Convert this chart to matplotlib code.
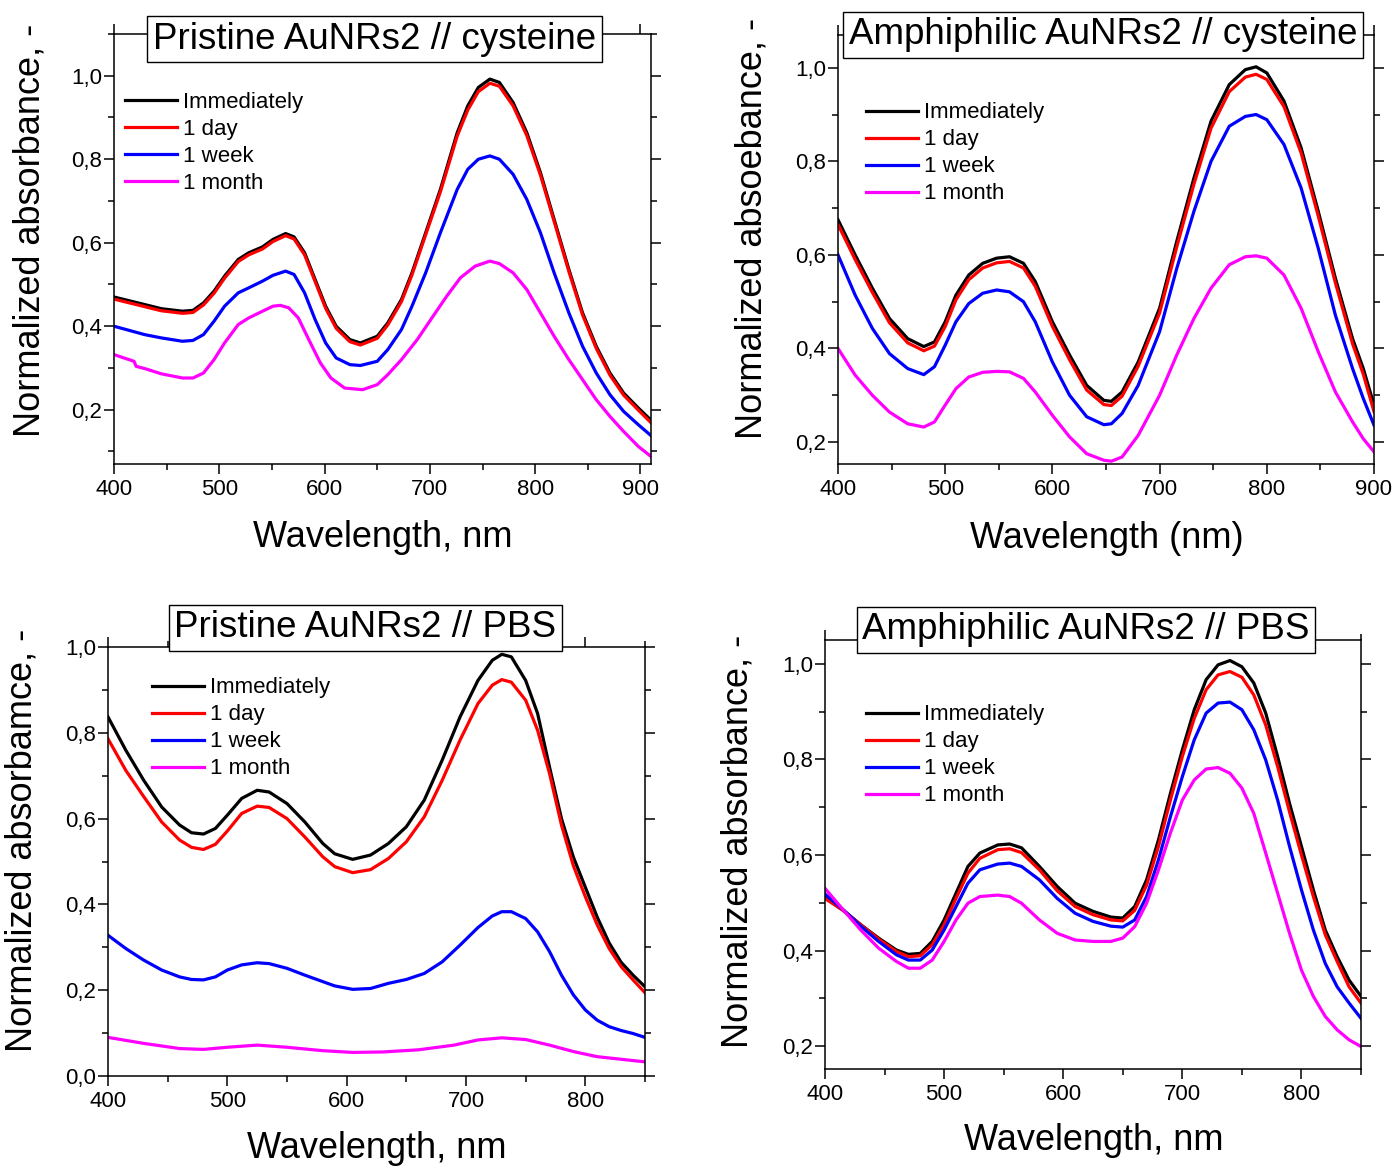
import matplotlib
matplotlib.use('Agg')
import matplotlib.pyplot as plt
from matplotlib.ticker import MultipleLocator, FuncFormatter

plt.rcParams['font.family'] = ['Liberation Sans', 'DejaVu Sans']

labels = ['Immediately', '1 day', '1 week', '1 month']
colors = ['#000000', '#FF0000', '#0000FF', '#FF00FF']

# --- Pristine AuNRs2 // cysteine ---
wl_pc = [400, 429, 445, 465, 475, 485, 495, 505, 518, 528, 541, 551, 563, 571, 581, 591, 601, 611, 624, 634,
         650, 660, 673, 683, 696, 710, 726, 736, 746, 757, 766, 779, 792, 805, 818, 832, 845, 858, 871, 884, 898, 910]
pc_imm = [0.470, 0.452, 0.442, 0.436, 0.438, 0.456, 0.484, 0.52, 0.56, 0.576, 0.59, 0.608, 0.622, 0.614, 0.576, 0.512,
          0.448, 0.40, 0.368, 0.36, 0.376, 0.408, 0.464, 0.528, 0.624, 0.728, 0.864, 0.928, 0.972, 0.992, 0.984, 0.936,
          0.864, 0.768, 0.656, 0.536, 0.432, 0.352, 0.288, 0.24, 0.204, 0.175]
pc_day = [0.465, 0.447, 0.437, 0.431, 0.433, 0.451, 0.479, 0.515, 0.555, 0.571, 0.585, 0.603, 0.617, 0.609, 0.571, 0.507,
          0.443, 0.395, 0.363, 0.355, 0.371, 0.403, 0.459, 0.523, 0.619, 0.722, 0.856, 0.918, 0.962, 0.982, 0.975, 0.928,
          0.857, 0.762, 0.651, 0.531, 0.427, 0.347, 0.283, 0.235, 0.199, 0.169]
pc_week = [0.40, 0.38, 0.372, 0.364, 0.366, 0.38, 0.412, 0.448, 0.48, 0.492, 0.508, 0.522, 0.532, 0.524, 0.48, 0.416,
           0.36, 0.324, 0.308, 0.306, 0.316, 0.344, 0.392, 0.448, 0.528, 0.624, 0.728, 0.776, 0.80, 0.808, 0.80, 0.764,
           0.704, 0.624, 0.528, 0.432, 0.352, 0.288, 0.236, 0.196, 0.164, 0.138]
wl_pc_month = [400, 419, 421, 430, 445, 465, 475, 485, 495, 505, 518, 528, 541, 551, 558, 566, 575, 585, 596, 606, 619,
               636, 650, 660, 673, 688, 703, 716, 729, 743, 757, 766, 779, 792, 805, 818, 832, 845, 858, 871, 884, 898, 910]
pc_month = [0.332, 0.316, 0.304, 0.298, 0.286, 0.276, 0.276, 0.288, 0.32, 0.36, 0.404, 0.42, 0.436, 0.448, 0.45, 0.444,
            0.42, 0.368, 0.312, 0.276, 0.252, 0.248, 0.26, 0.284, 0.32, 0.368, 0.424, 0.472, 0.516, 0.544, 0.556, 0.55,
            0.528, 0.488, 0.432, 0.376, 0.32, 0.272, 0.224, 0.184, 0.148, 0.112, 0.088]

# --- Amphiphilic AuNRs2 // cysteine ---
wl_ac = [400, 416, 432, 448, 465, 480, 490, 500, 510, 522, 535, 548, 560, 573, 584, 600, 616, 632, 648, 655, 665,
         680, 700, 716, 732, 748, 765, 780, 790, 800, 816, 832, 848, 864, 880, 890, 900]
ac_imm = [0.675, 0.60, 0.529, 0.464, 0.421, 0.404, 0.414, 0.457, 0.514, 0.557, 0.582, 0.593, 0.596, 0.582, 0.543, 0.457,
          0.386, 0.321, 0.289, 0.287, 0.307, 0.371, 0.486, 0.629, 0.764, 0.886, 0.964, 0.996, 1.002, 0.989, 0.929,
          0.829, 0.693, 0.55, 0.421, 0.357, 0.279]
ac_day = [0.665, 0.59, 0.52, 0.455, 0.412, 0.395, 0.405, 0.447, 0.504, 0.547, 0.572, 0.583, 0.586, 0.572, 0.533, 0.447,
          0.376, 0.311, 0.28, 0.278, 0.298, 0.362, 0.476, 0.617, 0.751, 0.871, 0.949, 0.98, 0.986, 0.975, 0.917,
          0.818, 0.683, 0.54, 0.41, 0.345, 0.265]
ac_week = [0.60, 0.514, 0.443, 0.389, 0.357, 0.344, 0.361, 0.407, 0.457, 0.496, 0.518, 0.525, 0.521, 0.50, 0.457, 0.371,
           0.30, 0.254, 0.237, 0.239, 0.261, 0.321, 0.436, 0.571, 0.693, 0.80, 0.875, 0.896, 0.90, 0.889, 0.836,
           0.743, 0.614, 0.471, 0.357, 0.293, 0.236]
ac_month = [0.40, 0.343, 0.30, 0.264, 0.239, 0.232, 0.243, 0.279, 0.314, 0.339, 0.349, 0.351, 0.35, 0.336, 0.307, 0.257,
            0.211, 0.175, 0.161, 0.159, 0.168, 0.214, 0.30, 0.386, 0.464, 0.529, 0.579, 0.596, 0.598, 0.593, 0.557,
            0.486, 0.393, 0.307, 0.243, 0.207, 0.179]

# --- Pristine AuNRs2 // PBS ---
wl_pp = [400, 415, 430, 445, 460, 470, 480, 490, 500, 512, 525, 535, 550, 565, 580, 590, 605, 620, 635, 650, 665,
         680, 695, 710, 722, 730, 738, 750, 760, 770, 780, 790, 800, 810, 820, 830, 840, 850]
pp_imm = [0.837, 0.759, 0.689, 0.627, 0.585, 0.567, 0.564, 0.577, 0.608, 0.647, 0.666, 0.662, 0.635, 0.592, 0.542, 0.518,
          0.505, 0.515, 0.542, 0.581, 0.643, 0.736, 0.837, 0.922, 0.969, 0.983, 0.977, 0.922, 0.845, 0.72, 0.60, 0.51,
          0.44, 0.37, 0.31, 0.265, 0.235, 0.208]
pp_day = [0.786, 0.712, 0.651, 0.592, 0.55, 0.533, 0.528, 0.54, 0.571, 0.612, 0.629, 0.626, 0.60, 0.557, 0.511, 0.488,
          0.474, 0.481, 0.507, 0.546, 0.604, 0.689, 0.783, 0.868, 0.911, 0.924, 0.918, 0.876, 0.806, 0.705, 0.585, 0.49,
          0.418, 0.352, 0.297, 0.255, 0.224, 0.194]
pp_week = [0.328, 0.297, 0.27, 0.247, 0.231, 0.225, 0.224, 0.231, 0.247, 0.259, 0.264, 0.262, 0.251, 0.235, 0.22, 0.21,
           0.202, 0.204, 0.216, 0.225, 0.239, 0.266, 0.305, 0.346, 0.373, 0.383, 0.383, 0.367, 0.336, 0.29, 0.235,
           0.189, 0.154, 0.13, 0.115, 0.106, 0.099, 0.09]
wl_pp_month = [400, 430, 460, 480, 500, 525, 550, 580, 605, 630, 660, 690, 710, 730, 750, 770, 790, 810, 830, 850]
pp_month = [0.09, 0.076, 0.064, 0.062, 0.067, 0.072, 0.067, 0.059, 0.055, 0.056, 0.061, 0.072, 0.084, 0.089, 0.085,
            0.072, 0.057, 0.045, 0.039, 0.033]

# --- Amphiphilic AuNRs2 // PBS ---
wl_ap = [400, 415, 430, 445, 460, 470, 480, 490, 500, 510, 520, 530, 545, 555, 565, 580, 595, 610, 625, 640, 650,
         660, 670, 680, 690, 700, 710, 720, 730, 740, 750, 760, 770, 780, 790, 800, 810, 820, 830, 840, 850]
ap_imm = [0.513, 0.485, 0.454, 0.426, 0.401, 0.392, 0.394, 0.419, 0.464, 0.52, 0.576, 0.604, 0.621, 0.623, 0.615, 0.576,
          0.534, 0.499, 0.482, 0.47, 0.468, 0.492, 0.548, 0.632, 0.729, 0.82, 0.904, 0.967, 0.998, 1.007, 0.994, 0.96,
          0.897, 0.806, 0.708, 0.618, 0.527, 0.443, 0.387, 0.338, 0.304]
ap_day = [0.509, 0.484, 0.454, 0.424, 0.398, 0.387, 0.389, 0.412, 0.454, 0.509, 0.562, 0.593, 0.611, 0.613, 0.605, 0.569,
          0.525, 0.492, 0.475, 0.464, 0.462, 0.484, 0.537, 0.618, 0.715, 0.806, 0.886, 0.946, 0.977, 0.984, 0.972, 0.935,
          0.872, 0.785, 0.69, 0.60, 0.513, 0.433, 0.377, 0.324, 0.29]
ap_week = [0.518, 0.486, 0.451, 0.419, 0.391, 0.38, 0.38, 0.401, 0.443, 0.492, 0.541, 0.569, 0.581, 0.583, 0.576, 0.548,
           0.509, 0.478, 0.461, 0.451, 0.449, 0.464, 0.513, 0.59, 0.68, 0.764, 0.841, 0.897, 0.918, 0.92, 0.904, 0.862,
           0.799, 0.715, 0.618, 0.527, 0.443, 0.373, 0.324, 0.29, 0.258]
ap_month = [0.53, 0.486, 0.443, 0.405, 0.377, 0.363, 0.363, 0.38, 0.419, 0.464, 0.499, 0.513, 0.516, 0.513, 0.499, 0.464,
            0.436, 0.422, 0.419, 0.419, 0.426, 0.45, 0.499, 0.569, 0.646, 0.715, 0.757, 0.78, 0.783, 0.771, 0.74, 0.687,
            0.604, 0.52, 0.436, 0.359, 0.304, 0.262, 0.234, 0.213, 0.199]

W, H = 1396, 1166
fig = plt.figure(figsize=(W / 100, H / 100), dpi=100)


def px_axes(left, right, top, bottom):
    return fig.add_axes([left / W, 1 - bottom / H, (right - left) / W, (bottom - top) / H])


comma = FuncFormatter(lambda v, p: ('%.1f' % v).replace('.', ','))

panels = [
    dict(box=(114, 651, 34, 464), xlim=(400, 910), ylim=(0.07, 1.10),
         series=[(wl_pc, pc_imm), (wl_pc, pc_day), (wl_pc, pc_week), (wl_pc_month, pc_month)],
         title='Pristine AuNRs2 // cysteine', tpos=(0.485, 0.988),
         xlabel='Wavelength, nm', ylabel='Normalized absorbance, -',
         xl=(0.5, -0.131), yl=(-0.123, 0.544), leg=(0.0205, 0.866)),
    dict(box=(838, 1374, 35, 464), xlim=(400, 900), ylim=(0.153, 1.07),
         series=[(wl_ac, ac_imm), (wl_ac, ac_day), (wl_ac, ac_week), (wl_ac, ac_month)],
         title='Amphiphilic AuNRs2 // cysteine', tpos=(0.494, 1.001),
         xlabel='Wavelength (nm)', ylabel='Normalized absoebance, -',
         xl=(0.502, -0.133), yl=(-0.127, 0.55), leg=(0.052, 0.843)),
    dict(box=(108, 645, 647, 1076), xlim=(400, 850), ylim=(0.0, 1.0),
         series=[(wl_pp, pp_imm), (wl_pp, pp_day), (wl_pp, pp_week), (wl_pp_month, pp_month)],
         title='Pristine AuNRs2 // PBS', tpos=(0.4795, 1.045),
         xlabel='Wavelength, nm', ylabel='Normalized absorbamce, -',
         xl=(0.5, -0.128), yl=(-0.127, 0.55), leg=(0.082, 0.929)),
    dict(box=(825, 1361, 640, 1069), xlim=(400, 850), ylim=(0.152, 1.05),
         series=[(wl_ap, ap_imm), (wl_ap, ap_day), (wl_ap, ap_week), (wl_ap, ap_month)],
         title='Amphiphilic AuNRs2 // PBS', tpos=(0.487, 1.024),
         xlabel='Wavelength, nm', ylabel='Normalized absorbance, -',
         xl=(0.501, -0.126), yl=(-0.129, 0.53), leg=(0.0765, 0.850)),
]

for p in panels:
    ax = px_axes(*p['box'])
    for (x, y), c, lab in zip(p['series'], colors, labels):
        ax.plot(x, y, color=c, lw=2.3, label=lab, solid_joinstyle='round')
    ax.set_xlim(*p['xlim'])
    ax.set_ylim(*p['ylim'])
    ax.xaxis.set_major_locator(MultipleLocator(100))
    ax.xaxis.set_minor_locator(MultipleLocator(50))
    ax.yaxis.set_major_locator(MultipleLocator(0.2))
    ax.yaxis.set_minor_locator(MultipleLocator(0.1))
    ax.yaxis.set_major_formatter(comma)
    for s in ax.spines.values():
        s.set_linewidth(1.1)
    ax.tick_params(which='both', direction='out', top=True, right=True, width=1.1, labelsize=16)
    ax.tick_params(which='major', length=7)
    ax.tick_params(which='minor', length=4)
    ax.tick_params(axis='x', pad=4)
    ax.tick_params(axis='y', pad=1.5)

    ax.set_xlabel(p['xlabel'], fontsize=26)
    ax.set_ylabel(p['ylabel'], fontsize=26)
    ax.xaxis.set_label_coords(*p['xl'])
    ax.yaxis.set_label_coords(*p['yl'])

    ax.text(p['tpos'][0], p['tpos'][1], p['title'], transform=ax.transAxes, fontsize=26.5,
            ha='center', va='center', zorder=5, clip_on=False,
            bbox=dict(boxstyle='square,pad=0.15', facecolor='white', edgecolor='black', linewidth=1.0))

    ax.legend(loc='upper left', bbox_to_anchor=p['leg'], frameon=False, fontsize=16,
              handlelength=2.34, handletextpad=0.27, labelspacing=0.27, borderpad=0, borderaxespad=0)

fig.savefig('out.png', dpi=100)
